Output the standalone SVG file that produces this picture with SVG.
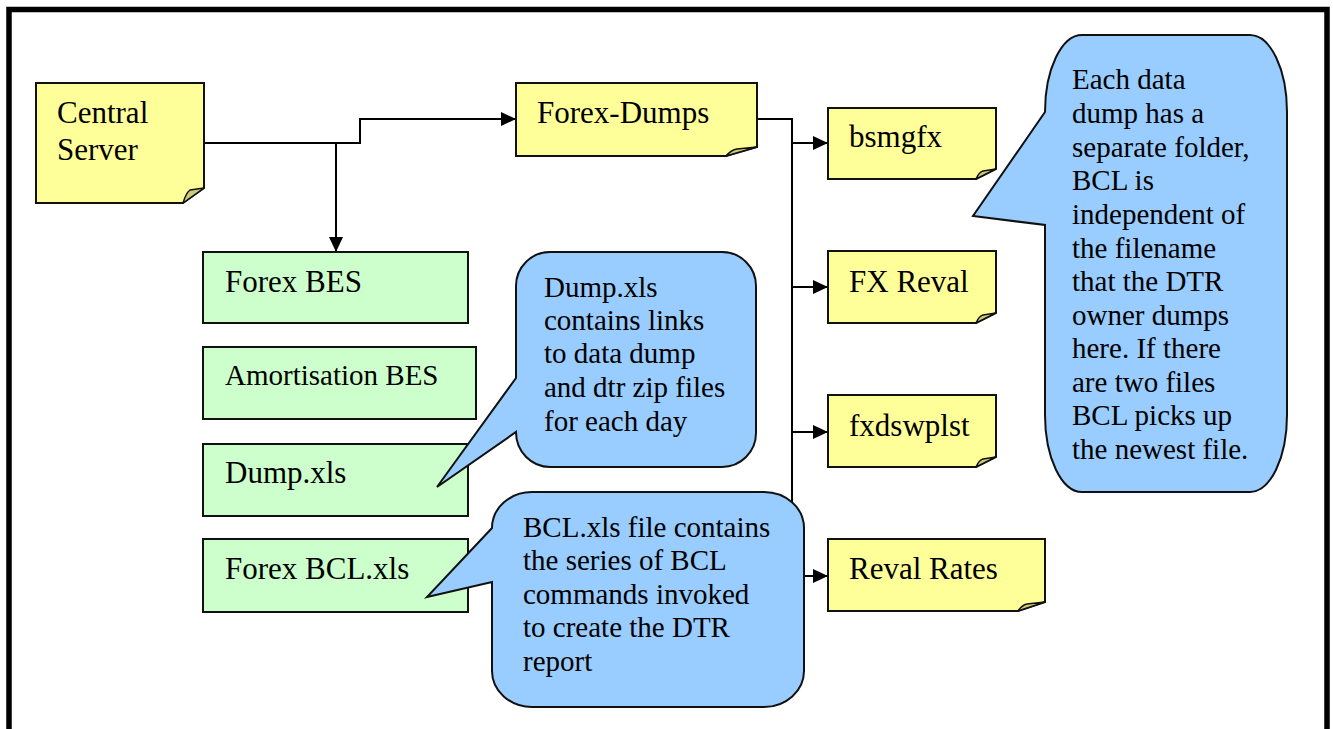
<svg xmlns="http://www.w3.org/2000/svg" width="1333" height="729" viewBox="0 0 1333 729">
<style>
  text { font-family: "Liberation Serif", "Times New Roman", serif; fill: #000; }
  .t31 { font-size: 31px; }
  .t29 { font-size: 29px; }
  .note { fill: #FFFF99; stroke: #111; stroke-width: 2; stroke-linejoin: miter; }
  .flap { fill: #CCCC77; stroke: #111; stroke-width: 1.5; stroke-linejoin: round; }
  .box { fill: #CCFFCC; stroke: #111; stroke-width: 2; }
  .callout { fill: #99CCFF; stroke: #111; stroke-width: 2; stroke-linejoin: miter; }
  .conn { fill: none; stroke: #000; stroke-width: 2; }
  .arrow { marker-end: url(#ah); }
</style>
<defs>
  <marker id="ah" markerUnits="userSpaceOnUse" markerWidth="16" markerHeight="14" refX="15" refY="7" orient="auto">
    <path d="M0,0 L15,7 L0,14 Z" fill="#000"/>
  </marker>
</defs>
<rect x="0" y="0" width="1333" height="729" fill="#fff"/>
<rect x="9" y="9.5" width="1318" height="760" fill="none" stroke="#000" stroke-width="5.5"/>

<g id="connectors">
  <path class="conn arrow" d="M204,143 H360 V119 H516"/>
  <path class="conn arrow" d="M336,143 V252"/>
  <path class="conn" d="M757,119 H792 V576"/>
  <path class="conn arrow" d="M792,143 H828"/>
  <path class="conn arrow" d="M792,287 H828"/>
  <path class="conn arrow" d="M792,432 H828"/>
  <path class="conn arrow" d="M792,576 H828"/>
</g>

<g id="central-server">
  <path class="note" d="M36,83 H204 V188 L183,203 H36 Z"/>
  <path class="flap" d="M183,203 Q186,193 190,190 L204,188 Z"/>
  <text class="t31" x="57" y="123">Central</text>
  <text class="t31" x="57" y="160">Server</text>
</g>

<g id="forex-dumps">
  <path class="note" d="M516,83 H757 V147 L726,156 H516 Z"/>
  <path class="flap" d="M726,156 Q731,150 737,149 L757,147 Z"/>
  <text class="t31" x="537" y="123">Forex-Dumps</text>
</g>

<g id="bsmgfx">
  <path class="note" d="M828,108 H996 V169 L976,179 H828 Z"/>
  <path class="flap" d="M976,179 Q979,172 983,171 L996,169 Z"/>
  <text class="t31" x="849" y="147">bsmgfx</text>
</g>

<g id="fx-reval">
  <path class="note" d="M828,251 H996 V313 L976,323 H828 Z"/>
  <path class="flap" d="M976,323 Q979,316 983,315 L996,313 Z"/>
  <text class="t31" x="849" y="292">FX Reval</text>
</g>

<g id="fxdswplst">
  <path class="note" d="M828,395 H996 V457 L976,467 H828 Z"/>
  <path class="flap" d="M976,467 Q979,460 983,459 L996,457 Z"/>
  <text class="t31" x="849" y="436">fxdswplst</text>
</g>

<g id="reval-rates">
  <path class="note" d="M828,539 H1045 V602 L1018,611 H828 Z"/>
  <path class="flap" d="M1018,611 Q1022,605 1027,604 L1045,602 Z"/>
  <text class="t31" x="849" y="579">Reval Rates</text>
</g>

<g id="forex-bes">
  <rect class="box" x="203" y="252" width="265" height="71"/>
  <text class="t31" x="225" y="292">Forex BES</text>
</g>

<g id="amortisation-bes">
  <rect class="box" x="203" y="347" width="273" height="72"/>
  <text class="t29" x="225" y="385">Amortisation BES</text>
</g>

<g id="dump-xls">
  <rect class="box" x="203" y="444" width="265" height="72"/>
  <text class="t31" x="225" y="483">Dump.xls</text>
</g>

<g id="forex-bcl-xls">
  <rect class="box" x="203" y="539" width="265" height="73"/>
  <text class="t31" x="225" y="579">Forex BCL.xls</text>
</g>

<g id="callout-dump">
  <path class="callout" d="M550,252 H722 A34 34 0 0 1 756,286 V433 A34 34 0 0 1 722,467 H550 A34 35 0 0 1 516,432 L437,487 L516,378 V286 A34 34 0 0 1 550,252 Z"/>
  <text class="t29" x="544" y="297">Dump.xls</text>
  <text class="t29" x="544" y="330">contains links</text>
  <text class="t29" x="544" y="363">to data dump</text>
  <text class="t29" x="544" y="397">and dtr zip files</text>
  <text class="t29" x="544" y="431">for each day</text>
</g>

<g id="callout-bcl">
  <path class="callout" d="M532,492 H764 A40 36 0 0 1 804,528 V671 A40 36 0 0 1 764,707 H532 A40 36 0 0 1 492,671 V582 L427,597 L492,528 A40 36 0 0 1 532,492 Z"/>
  <text class="t29" x="523" y="537">BCL.xls file contains</text>
  <text class="t29" x="523" y="570">the series of BCL</text>
  <text class="t29" x="523" y="604">commands invoked</text>
  <text class="t29" x="523" y="637">to create the DTR</text>
  <text class="t29" x="523" y="671">report</text>
</g>

<g id="callout-folder">
  <path class="callout" d="M1082,35 H1250 A37 77 0 0 1 1287,112 V415 A37 77 0 0 1 1250,492 H1082 A37 77 0 0 1 1045,415 V225 L973,216 L1045,112 A37 77 0 0 1 1082,35 Z"/>
  <text class="t29" x="1072" y="89">Each data</text>
  <text class="t29" x="1072" y="123">dump has a</text>
  <text class="t29" x="1072" y="157">separate folder,</text>
  <text class="t29" x="1072" y="190">BCL is</text>
  <text class="t29" x="1072" y="224">independent of</text>
  <text class="t29" x="1072" y="258">the filename</text>
  <text class="t29" x="1072" y="291">that the DTR</text>
  <text class="t29" x="1072" y="325">owner dumps</text>
  <text class="t29" x="1072" y="358">here. If there</text>
  <text class="t29" x="1072" y="392">are two files</text>
  <text class="t29" x="1072" y="425">BCL picks up</text>
  <text class="t29" x="1072" y="459">the newest file.</text>
</g>
</svg>
